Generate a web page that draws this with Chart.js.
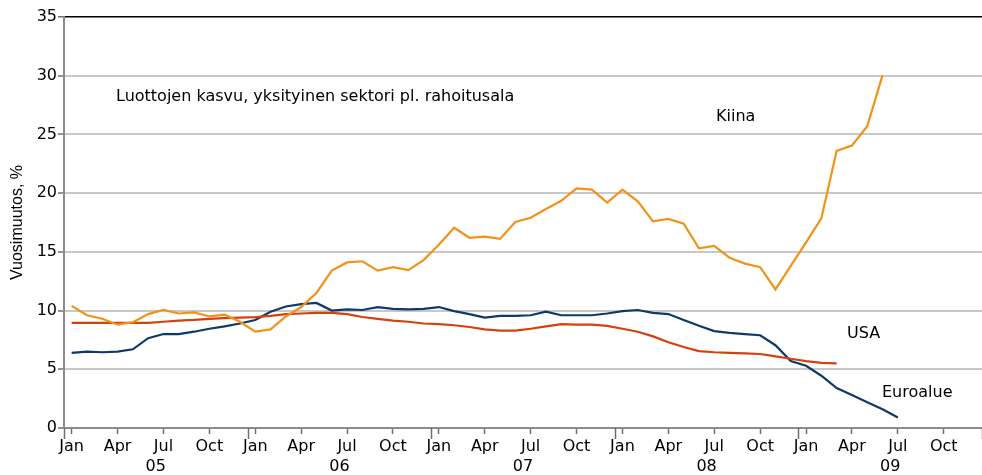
<!DOCTYPE html>
<html>
<head>
<meta charset="utf-8">
<script src="https://cdn.jsdelivr.net/npm/chart.js@4"></script>
<style>
  html, body { margin: 0; padding: 0; background: #fff; }
</style>
</head>
<body>
<canvas id="mycanvas" width="982" height="475"></canvas>
<script>
var months = ['Jan', 'Feb', 'Mar', 'Apr', 'May', 'Jun', 'Jul', 'Aug', 'Sep', 'Oct', 'Nov', 'Dec'];
var years = ['05', '06', '07', '08', '09'];

// vuosimuutos, % (kuukausittain tammikuusta 2005)
var kiina = [10.4, 9.6, 9.3, 8.8, 9.0, 9.7, 10.05, 9.75, 9.85, 9.5, 9.65, 9.05,
  8.2, 8.4, 9.5, 10.3, 11.5, 13.4, 14.1, 14.2, 13.4, 13.7, 13.45, 14.3,
  15.6, 17.05, 16.2, 16.3, 16.1, 17.55, 17.9, 18.65, 19.35, 20.4, 20.3, 19.2,
  20.3, 19.3, 17.6, 17.8, 17.4, 15.3, 15.5, 14.5, 14.0, 13.7, 11.8, 13.8,
  15.8, 17.85, 23.6, 24.05, 25.7, 30.05];
var usa = [8.95, 8.95, 8.95, 8.95, 8.95, 8.95, 9.05, 9.15, 9.2, 9.3, 9.35, 9.4,
  9.45, 9.55, 9.7, 9.75, 9.8, 9.8, 9.7, 9.45, 9.3, 9.15, 9.05, 8.9,
  8.85, 8.75, 8.6, 8.4, 8.3, 8.3, 8.45, 8.65, 8.85, 8.8, 8.8, 8.7,
  8.45, 8.2, 7.8, 7.3, 6.9, 6.55, 6.45, 6.4, 6.35, 6.3, 6.1, 5.9,
  5.7, 5.55, 5.5];
var euroalue = [6.4, 6.5, 6.45, 6.5, 6.7, 7.65, 8.0, 8.0, 8.2, 8.45, 8.65, 8.9,
  9.2, 9.9, 10.35, 10.55, 10.65, 10.0, 10.1, 10.05, 10.3, 10.15, 10.1, 10.15,
  10.3, 9.95, 9.7, 9.4, 9.55, 9.55, 9.6, 9.9, 9.6, 9.6, 9.6, 9.75,
  9.95, 10.05, 9.8, 9.7, 9.2, 8.7, 8.25, 8.1, 8.0, 7.9, 7.05, 5.7,
  5.3, 4.45, 3.4, 2.8, 2.2, 1.6, 0.9];

var labels = [];
for (var y in years) {
  for (var m in months) {
    labels.push(months[m] + ' ' + years[y]);
  }
}

var FONT = '"DejaVu Sans", sans-serif';

var extras = {
  id: 'extras',
  afterDraw: function(chart) {
    var ctx = chart.ctx;
    var x = chart.scales.x;
    var area = chart.chartArea;
    var step = x.getPixelForValue(1) - x.getPixelForValue(0);
    ctx.save();
    // vuosien rajat
    ctx.strokeStyle = '#6e6e6e';
    ctx.lineWidth = 1.5;
    for (var k = 0; k <= years.length; k++) {
      var px = Math.round(x.getPixelForValue(k * 12) - step / 2) + 0.5;
      ctx.beginPath();
      ctx.moveTo(px, area.bottom);
      ctx.lineTo(px, area.bottom + 11);
      ctx.stroke();
    }
    ctx.fillStyle = '#000';
    ctx.font = '16px ' + FONT;
    ctx.textAlign = 'center';
    ctx.textBaseline = 'middle';
    for (var j = 0; j < years.length; j++) {
      var cx = (x.getPixelForValue(j * 12 + 5) + x.getPixelForValue(j * 12 + 6)) / 2;
      ctx.fillText(years[j], cx, 467);
    }
    // tekstit
    ctx.textAlign = 'left';
    ctx.fillText('Luottojen kasvu, yksityinen sektori pl. rahoitusala', 116, 97);
    ctx.fillText('Kiina', 716, 117);
    ctx.fillText('USA', 847, 334);
    ctx.fillText('Euroalue', 882, 393);
    ctx.restore();
  }
};

var chartdata = {
  labels: labels,
  datasets: [
    { label: 'Kiina', data: kiina, borderColor: '#f39218', borderWidth: 2.2 },
    { label: 'USA', data: usa, borderColor: '#d5400c', borderWidth: 2.2 },
    { label: 'Euroalue', data: euroalue, borderColor: '#0d3a6b', borderWidth: 2.2 }
  ]
};

var ctx = document.getElementById('mycanvas');

var lineGraph = new Chart(ctx, {
  type: 'line',
  data: chartdata,
  options: {
    responsive: false,
    animation: false,
    devicePixelRatio: 1,
    layout: { padding: { top: 17, right: 0, bottom: 0, left: 0 } },
    elements: { point: { radius: 0 }, line: { tension: 0 } },
    plugins: { legend: { display: false }, tooltip: { enabled: false } },
    scales: {
      x: {
        offset: true,
        grid: {
          offset: false,
          drawOnChartArea: false,
          tickLength: 6,
          tickWidth: 1.5,
          tickColor: function(c) { return c.index % 3 === 0 ? '#6e6e6e' : 'rgba(0,0,0,0)'; }
        },
        border: { color: '#8c8c8c', width: 2 },
        ticks: {
          autoSkip: false,
          maxRotation: 0,
          padding: 3,
          color: '#000',
          font: { family: FONT, size: 16 },
          callback: function(v, i) { return i % 3 === 0 ? months[i % 12] : ''; }
        },
        afterFit: function(s) { s.height = 47; }
      },
      y: {
        min: 0,
        max: 35,
        ticks: { stepSize: 5, padding: 1, color: '#000', font: { family: FONT, size: 16 } },
        grid: {
          color: function(c) { return c.tick.value === 35 ? '#000' : '#c8c8c8'; },
          lineWidth: function(c) { return c.tick.value === 35 ? 1.5 : 2; },
          tickColor: '#6e6e6e',
          tickLength: 6,
          tickWidth: 1.5
        },
        border: { color: '#8c8c8c', width: 2 },
        title: {
          display: true,
          text: 'Vuosimuutos, %',
          color: '#000',
          font: { family: '"Liberation Sans", Arial, sans-serif', size: 16 },
          padding: { top: 8, bottom: 0 }
        },
        afterFit: function(s) { s.width = 64; }
      }
    }
  },
  plugins: [extras]
});
</script>
</body>
</html>
